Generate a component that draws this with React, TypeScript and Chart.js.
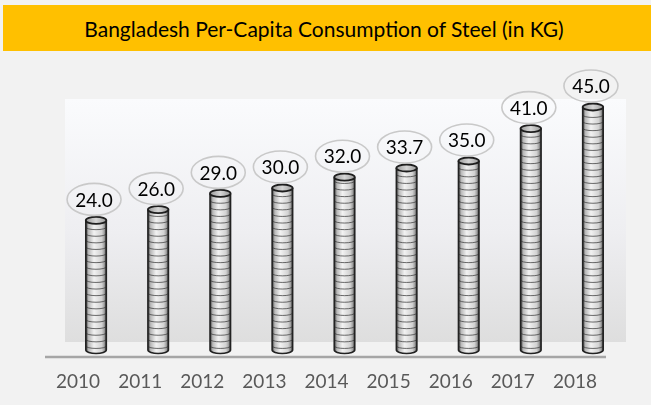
import React, { useEffect, useRef } from "react";
import { Chart, registerables } from "chart.js";
Chart.register(...registerables);

const years = ["2010", "2011", "2012", "2013", "2014", "2015", "2016", "2017", "2018"];
const consumption = [24.0, 26.0, 29.0, 30.0, 32.0, 33.7, 35.0, 41.0, 45.0];
const yMin = 0;
const yMax = 45;
const yStep = 5;
const titleText = "Bangladesh Per-Capita Consumption of Steel (in KG)";

const FONT = "Lato, 'Open Sans', sans-serif";
const DX = 9;
const DY = -7;

function drawCylinder(ctx: CanvasRenderingContext2D, cx: number, top: number, bottom: number, w: number) {
  const rx = w / 2;
  const ry = 3.5;
  const l = cx - rx;
  const r = cx + rx;
  const g = ctx.createLinearGradient(l, 0, r, 0);
  g.addColorStop(0, "#3a3a3a");
  g.addColorStop(0.13, "#b8b8b8");
  g.addColorStop(0.4, "#f2f2f2");
  g.addColorStop(0.78, "#d2d2d2");
  g.addColorStop(0.9, "#a0a0a0");
  g.addColorStop(1, "#3a3a3a");
  ctx.save();
  ctx.beginPath();
  ctx.moveTo(l, top);
  ctx.lineTo(l, bottom);
  ctx.ellipse(cx, bottom, rx, ry, 0, Math.PI, 0, true);
  ctx.lineTo(r, top);
  ctx.ellipse(cx, top, rx, ry, 0, 0, Math.PI, false);
  ctx.closePath();
  ctx.fillStyle = g;
  ctx.fill();
  // stripes
  ctx.save();
  ctx.clip();
  ctx.strokeStyle = "rgba(60,60,60,0.75)";
  ctx.lineWidth = 1;
  for (let yy = bottom - 4; yy > top + 3; yy -= 6.6) {
    ctx.beginPath();
    ctx.ellipse(cx, yy, rx, ry * 0.7, 0, 0, Math.PI, false);
    ctx.stroke();
  }
  ctx.restore();
  // outline
  ctx.beginPath();
  ctx.moveTo(l, top);
  ctx.lineTo(l, bottom);
  ctx.ellipse(cx, bottom, rx, ry, 0, Math.PI, 0, true);
  ctx.lineTo(r, top);
  ctx.strokeStyle = "#222";
  ctx.lineWidth = 1.6;
  ctx.stroke();
  // top cap
  const tg = ctx.createLinearGradient(l, 0, r, 0);
  tg.addColorStop(0, "#9a9a9a");
  tg.addColorStop(0.5, "#d6d6d6");
  tg.addColorStop(1, "#9a9a9a");
  ctx.beginPath();
  ctx.ellipse(cx, top, rx, ry, 0, 0, Math.PI * 2);
  ctx.fillStyle = tg;
  ctx.fill();
  ctx.strokeStyle = "#1e1e1e";
  ctx.lineWidth = 1.8;
  ctx.stroke();
  ctx.restore();
}

const cylinderPlugin = {
  id: "cylinders",
  beforeDatasetsDraw(chart: any) {
    const { ctx, chartArea, scales } = chart;
    const y = scales.y;
    const top = y.getPixelForValue(yMax) - 15;
    const bottom = y.getPixelForValue(yMin) - 15;
    const left = chartArea.left + 9;
    const right = chartArea.right + 11;
    ctx.save();
    const g = ctx.createLinearGradient(0, top, 0, bottom);
    g.addColorStop(0, "#fafbfd");
    g.addColorStop(0.55, "#eeeef1");
    g.addColorStop(1, "#dedede");
    ctx.fillStyle = g;
    ctx.fillRect(left, top, right - left, bottom - top);
    ctx.restore();
  },
  afterDatasetsDraw(chart: any) {
    const { ctx } = chart;
    const meta = chart.getDatasetMeta(0);
    const data = chart.data.datasets[0].data as number[];
    meta.data.forEach((bar: any, i: number) => {
      const p = bar.getProps(["x", "y", "base", "width"], true);
      const cx = p.x + DX;
      const top = p.y + DY;
      const bottom = p.base + DY;
      drawCylinder(ctx, cx, top, bottom, p.width);
      // label bubble
      const lx = cx - 2;
      const ly = top - 21;
      ctx.save();
      ctx.beginPath();
      ctx.ellipse(lx, ly, 27, 16, 0, 0, Math.PI * 2);
      ctx.strokeStyle = "#c9c9c9";
      ctx.lineWidth = 1.6;
      ctx.stroke();
      ctx.fillStyle = "#000";
      ctx.font = `19px ${FONT}`;
      ctx.textAlign = "center";
      ctx.textBaseline = "middle";
      ctx.fillText(data[i].toFixed(1), lx, ly + 1);
      ctx.restore();
    });
  },
  afterDraw(chart: any) {
    const { ctx, chartArea } = chart;
    ctx.save();
    ctx.strokeStyle = "#a6a6a6";
    ctx.lineWidth = 2.5;
    ctx.beginPath();
    ctx.moveTo(chartArea.left - 11, chartArea.bottom);
    ctx.lineTo(chartArea.right - 9, chartArea.bottom);
    ctx.stroke();
    ctx.restore();
  },
};

export default function App() {
  const ref = useRef<HTMLCanvasElement | null>(null);
  useEffect(() => {
    if (!ref.current) return;
    const chart = new Chart(ref.current, {
      type: "bar",
      data: {
        labels: years,
        datasets: [
          {
            data: consumption,
            backgroundColor: "rgba(0,0,0,0)",
            borderWidth: 0,
            barPercentage: 0.33,
            categoryPercentage: 1,
          },
        ],
      },
      options: {
        animation: false,
        responsive: false,
        devicePixelRatio: 1,
        layout: { padding: { top: 114, left: 36, right: 36, bottom: 0 } },
        plugins: { legend: { display: false }, tooltip: { enabled: false }, title: { display: false } },
        scales: {
          x: {
            grid: { display: false },
            border: { display: false },
            ticks: { color: "#595959", font: { family: FONT, size: 19 }, padding: 5, labelOffset: -9 },
            afterFit: (s: any) => {
              s.height = 48;
            },
          },
          y: {
            min: yMin,
            max: yMax,
            grid: { display: false },
            border: { display: false },
            ticks: { stepSize: yStep, color: "rgba(255,255,255,0.9)", font: { family: FONT, size: 7 }, padding: 18 },
            afterFit: (s: any) => {
              s.width = 20;
            },
          },
        },
      },
      plugins: [cylinderPlugin],
    });
    return () => chart.destroy();
  }, []);

  return (
    <div style={{ position: "fixed", left: 0, top: 0, width: 651, height: 405, background: "#f2f2f2", overflow: "hidden" }}>
      <canvas ref={ref} width={651} height={405} style={{ position: "absolute", left: 0, top: 0, width: 651, height: 405 }} />
      <div
        style={{
          position: "absolute",
          left: 3,
          top: 5,
          width: 648,
          height: 46,
          background: "#FFC000",
          display: "flex",
          alignItems: "center",
          justifyContent: "center",
          fontFamily: FONT,
          fontSize: 21,
          color: "#000",
          paddingRight: 6,
          boxSizing: "border-box",
        }}
      >
        {titleText}
      </div>
    </div>
  );
}
